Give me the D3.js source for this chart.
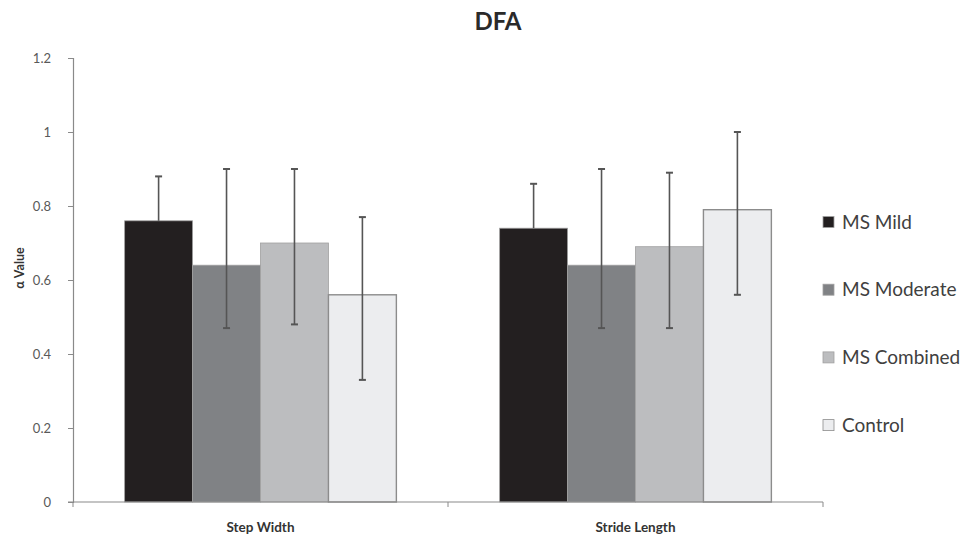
<!DOCTYPE html>
<html><head><meta charset="utf-8">
<script src="https://cdn.jsdelivr.net/npm/d3@7/dist/d3.min.js"></script>
<style>body{margin:0;background:#fff}svg{display:block}</style>
</head><body><svg id="c" width="969" height="540"></svg>
<script>
const categories = ["Step Width", "Stride Length"];
const seriesNames = ["MS Mild", "MS Moderate", "MS Combined", "Control"];
const seriesColors = ["#231f20", "#808285", "#bcbdbf", "#ecedef"];
const meanMild = [0.76, 0.74];
const meanModerate = [0.64, 0.64];
const meanCombined = [0.70, 0.69];
const meanControl = [0.56, 0.79];
const upperMild = [0.88, 0.86];
const upperModerate = [0.90, 0.90];
const upperCombined = [0.90, 0.89];
const upperControl = [0.77, 1.00];
const lowerMild = [null, null];
const lowerModerate = [0.47, 0.47];
const lowerCombined = [0.48, 0.47];
const lowerControl = [0.33, 0.56];
const yTicks = [0, 0.2, 0.4, 0.6, 0.8, 1, 1.2];

const means = [meanMild, meanModerate, meanCombined, meanControl];
const uppers = [upperMild, upperModerate, upperCombined, upperControl];
const lowers = [lowerMild, lowerModerate, lowerCombined, lowerControl];

const svg = d3.select("#c");
const L = 73, R = 823, T = 58, B = 502;
const font = "Lato, 'Open Sans', sans-serif";

const x0 = d3.scaleBand().domain(categories).range([L, R]).paddingInner(0).paddingOuter(0);
const x1 = d3.scaleBand().domain(seriesNames).range([0, x0.bandwidth()]).paddingOuter(0.76).paddingInner(0);
const y = d3.scaleLinear().domain([0, 1.2]).range([B, T]);

// y axis
const ya = svg.append("g").attr("transform", `translate(${L},0)`)
  .call(d3.axisLeft(y).tickValues(yTicks).tickSize(5).tickPadding(17).tickFormat(d => d3.format("")(+d.toFixed(1))));
ya.select(".domain").attr("stroke", "#8a8a8a").attr("stroke-width", 1.2);
ya.selectAll(".tick line").attr("stroke", "#8a8a8a");
ya.selectAll("text").attr("fill", "#595959").style("font-family", font).style("font-size", "13px");

// bars
const data = [];
categories.forEach((c, ci) => seriesNames.forEach((s, si) => data.push({c, s, si, v: means[si][ci], hi: uppers[si][ci], lo: lowers[si][ci]})));

svg.append("g").selectAll("rect").data(data).join("rect")
  .attr("x", d => x0(d.c) + x1(d.s))
  .attr("y", d => y(d.v))
  .attr("width", x1.bandwidth())
  .attr("height", d => y(0) - y(d.v))
  .attr("fill", d => seriesColors[d.si])
  .attr("stroke", d => d.si === 3 ? "#8c8c8c" : "#a0a0a0")
  .attr("stroke-width", d => d.si === 3 ? 1.4 : 0.8);

// error bars
const eg = svg.append("g").attr("stroke", "#555").attr("stroke-width", 1.6);
data.forEach(d => {
  const cx = x0(d.c) + x1(d.s) + x1.bandwidth() / 2;
  const top = y(d.hi);
  const bot = d.lo == null ? y(d.v) : y(d.lo);
  eg.append("line").attr("x1", cx).attr("x2", cx).attr("y1", top).attr("y2", bot);
  eg.append("line").attr("x1", cx - 3.5).attr("x2", cx + 3.5).attr("y1", top).attr("y2", top).attr("stroke-width", 2);
  if (d.lo != null) eg.append("line").attr("x1", cx - 3.5).attr("x2", cx + 3.5).attr("y1", bot).attr("y2", bot).attr("stroke-width", 2);
});

// x axis
const xa = svg.append("g").attr("transform", `translate(0,${B})`);
xa.append("line").attr("x1", L - 5).attr("x2", R).attr("stroke", "#8a8a8a").attr("stroke-width", 1.2);
const bounds = [L, ...categories.map(c => x0(c) + x0.bandwidth())];
xa.selectAll("line.t").data(bounds).join("line").attr("class", "t")
  .attr("x1", d => d).attr("x2", d => d).attr("y1", 0).attr("y2", 5).attr("stroke", "#8a8a8a");
xa.selectAll("text").data(categories).join("text")
  .attr("x", d => x0(d) + x0.bandwidth() / 2).attr("y", 30)
  .attr("text-anchor", "middle").attr("fill", "#333")
  .style("font-family", font).style("font-size", "13.5px").style("font-weight", "bold")
  .text(d => d);

// y title
svg.append("text").attr("transform", "translate(24,268) rotate(-90)")
  .attr("text-anchor", "middle").attr("fill", "#333")
  .style("font-family", font).style("font-size", "12.5px").style("font-weight", "bold")
  .text("α Value");

// title
svg.append("text").attr("x", 498).attr("y", 30).attr("text-anchor", "middle")
  .attr("fill", "#2a2a2a").style("font-family", font).style("font-size", "24px").style("font-weight", "bold")
  .text("DFA");

// legend
const lg = svg.append("g").selectAll("g").data(seriesNames).join("g")
  .attr("transform", (d, i) => `translate(823,${222 + i * 67.7})`);
lg.append("rect").attr("x", 0).attr("y", -5.5).attr("width", 11).attr("height", 11)
  .attr("fill", (d, i) => seriesColors[i]).attr("stroke", (d, i) => i === 3 ? "#8c8c8c" : "#a0a0a0").attr("stroke-width", 0.8);
lg.append("text").attr("x", 19).attr("y", 6.5).attr("fill", "#404040")
  .style("font-family", font).style("font-size", "19px").text(d => d);
</script></body></html>
